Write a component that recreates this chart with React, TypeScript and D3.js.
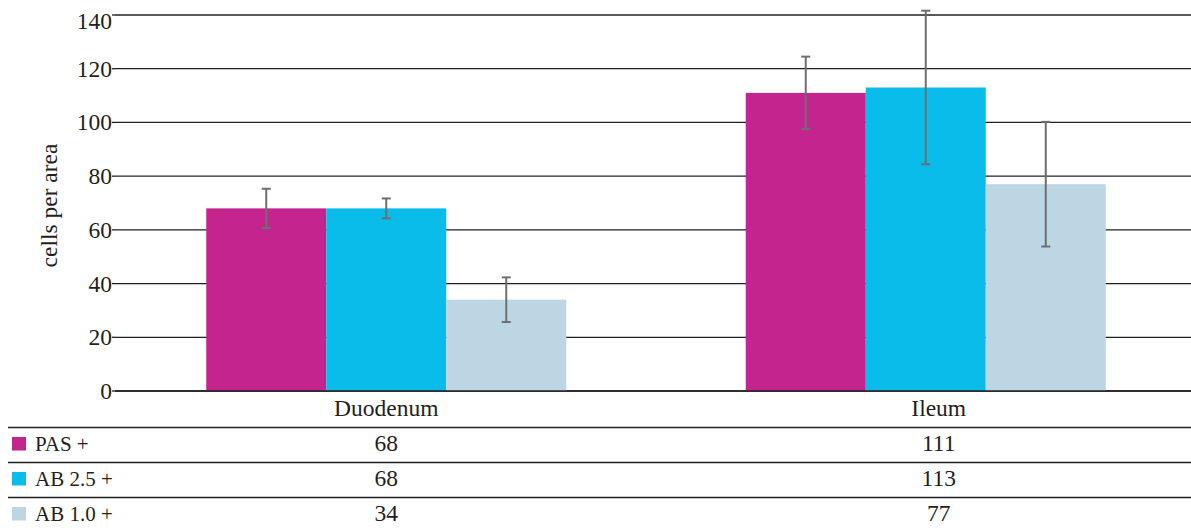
import React from "react";
import * as d3 from "d3";

const categories = ["Duodenum", "Ileum"];
const seriesNames = ["PAS +", "AB 2.5 +", "AB 1.0 +"];
const seriesColors = ["#c4248e", "#0abce9", "#bcd6e3"];
const pasValues = [68, 111];
const ab25Values = [68, 113];
const ab10Values = [34, 77];
const pasErrors = [7.3, 13.5];
const ab25Errors = [3.7, 28.6];
const ab10Errors = [8.3, 23.2];
const yTicks = [0, 20, 40, 60, 80, 100, 120, 140];
const yLabel = "cells per area";

const seriesValues = [pasValues, ab25Values, ab10Values];
const seriesErrors = [pasErrors, ab25Errors, ab10Errors];

const W = 1191;
const H = 531;
const FONT = '"Liberation Serif", "DejaVu Serif", serif';
const INK = "#231f20";
const ERR = "#6d6e71";
const FS = 23.5;

export default function App() {
  const y = d3.scaleLinear().domain([0, 140]).range([391, 15]);
  const x0 = d3
    .scaleBand<string>()
    .domain(categories)
    .range([116.5, 1195.5])
    .paddingInner(0.3327)
    .paddingOuter(0.16635);
  const x1 = d3
    .scaleBand<string>()
    .domain(seriesNames)
    .range([0, x0.bandwidth()])
    .padding(0);
  const tableCol = d3.scaleBand<string>().domain(categories).range([110, 1215]);
  const tableRow = d3.scaleBand<string>().domain(seriesNames).range([427.5, 532.5]);

  const gridX0 = 115;
  const gridX1 = W;
  const txt = { fontFamily: FONT, fill: INK } as React.CSSProperties;

  return (
    <svg
      width={W}
      height={H}
      style={{ position: "absolute", left: 0, top: 0, background: "#fff", fontFamily: FONT }}
    >
      {/* gridlines */}
      {yTicks.map((t) => (
        <g key={"g" + t}>
          <line x1={gridX0} x2={gridX1} y1={y(t)} y2={y(t)} stroke={INK} strokeWidth={1.3} />
          <line x1={112} x2={gridX0} y1={y(t)} y2={y(t)} stroke={INK} strokeWidth={1.3} />
          <text
            x={112}
            y={y(t) + (t === 140 ? 14 : 8)}
            textAnchor="end"
            fontSize={FS}
            style={txt}
          >
            {t}
          </text>
        </g>
      ))}

      {/* y label */}
      <text
        transform={`translate(57, 205.5) rotate(-90)`}
        textAnchor="middle"
        fontSize={FS}
        style={txt}
      >
        {yLabel}
      </text>

      {/* bars */}
      {categories.map((c, ci) => (
        <g key={c} transform={`translate(${x0(c)},0)`}>
          {seriesNames.map((s, si) => {
            const v = seriesValues[si][ci];
            return (
              <rect
                key={s}
                x={x1(s)}
                y={y(v)}
                width={x1.bandwidth()}
                height={y(0) - y(v)}
                fill={seriesColors[si]}
              />
            );
          })}
        </g>
      ))}

      {/* baseline redraw */}
      <line x1={gridX0} x2={gridX1} y1={y(0)} y2={y(0)} stroke={INK} strokeWidth={1.3} />

      {/* error bars */}
      {categories.map((c, ci) =>
        seriesNames.map((s, si) => {
          const v = seriesValues[si][ci];
          const e = seriesErrors[si][ci];
          const cx = (x0(c) as number) + (x1(s) as number) + x1.bandwidth() / 2;
          return (
            <g key={c + s} stroke={ERR} strokeWidth={2}>
              <line x1={cx} x2={cx} y1={y(v + e)} y2={y(v - e)} />
              <line x1={cx - 4.5} x2={cx + 4.5} y1={y(v + e)} y2={y(v + e)} />
              <line x1={cx - 4.5} x2={cx + 4.5} y1={y(v - e)} y2={y(v - e)} />
            </g>
          );
        })
      )}

      {/* category labels */}
      {categories.map((c) => (
        <text
          key={"c" + c}
          x={(tableCol(c) as number) + tableCol.bandwidth() / 2}
          y={415.5}
          textAnchor="middle"
          fontSize={FS}
          style={txt}
        >
          {c}
        </text>
      ))}

      {/* data table */}
      {seriesNames.map((s, si) => {
        const top = tableRow(s) as number;
        return (
          <g key={"r" + s}>
            <line x1={8} x2={W} y1={top} y2={top} stroke={INK} strokeWidth={1.3} />
            <rect x={12} y={top + 9.5} width={14} height={13.5} fill={seriesColors[si]} />
            <text x={35} y={top + 23.5} fontSize={21} style={txt}>
              {s}
            </text>
            {categories.map((c, ci) => (
              <text
                key={c}
                x={(tableCol(c) as number) + tableCol.bandwidth() / 2}
                y={top + 23.5}
                textAnchor="middle"
                fontSize={FS}
                style={txt}
              >
                {seriesValues[si][ci]}
              </text>
            ))}
          </g>
        );
      })}
    </svg>
  );
}
